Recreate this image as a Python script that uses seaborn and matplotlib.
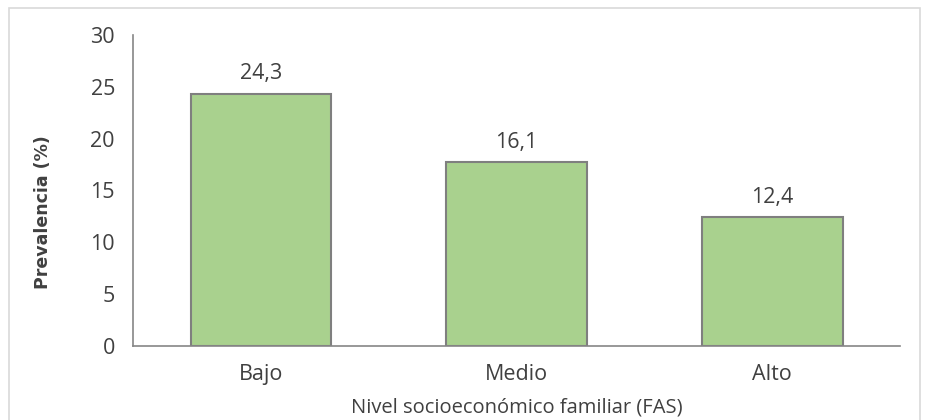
import matplotlib
matplotlib.use("Agg")
import matplotlib.pyplot as plt
import seaborn as sns
import pandas as pd
from matplotlib.patches import Rectangle

# Data
niveles = ["Bajo", "Medio", "Alto"]
alturas = [24.3, 17.7, 12.4]          # drawn bar heights
etiquetas = ["24,3", "16,1", "12,4"]  # printed data labels
yticks = [0, 5, 10, 15, 20, 25, 30]

df = pd.DataFrame({"Nivel": niveles, "Prevalencia": alturas})

sns.set_theme(style="white")
plt.rcParams["font.family"] = ["Open Sans", "DejaVu Sans"]

gris_txt = "#404040"
gris_eje = "#868686"
fs = 15.5

fig = plt.figure(figsize=(9.26, 4.2), dpi=100)
ax = fig.add_axes([0.1436, 0.176, 0.8284, 0.741])

sns.barplot(data=df, x="Nivel", y="Prevalencia", color="#A9D18E",
            saturation=1, width=0.55, edgecolor="#7F7F7F", linewidth=1.5, ax=ax)

for i, (h, lab) in enumerate(zip(alturas, etiquetas)):
    ax.annotate(lab, (i, h), xytext=(0, 7), textcoords="offset points",
                ha="center", va="bottom", fontsize=fs, color=gris_txt)

ax.set_ylim(0, 30)
ax.set_xlim(-0.5, 2.5)
ax.set_yticks(yticks)
ax.set_yticklabels([str(t) for t in yticks], fontsize=fs, color=gris_txt)
ax.tick_params(axis="x", length=0, pad=13, labelsize=fs, labelcolor=gris_txt)
ax.tick_params(axis="y", length=5, width=1, color=gris_eje, direction="out", pad=8)

ax.set_ylabel("Prevalencia (%)", fontsize=12.5, fontweight="bold",
              color=gris_txt, family=["DejaVu Sans"])
ax.yaxis.set_label_coords(-0.105, 0.431)
ax.set_xlabel("Nivel socioeconómico familiar (FAS)", fontsize=14.5,
              color=gris_txt, va="baseline")
ax.xaxis.set_label_coords(0.5, -0.215)

for s in ["top", "right"]:
    ax.spines[s].set_visible(False)
for s in ["left", "bottom"]:
    ax.spines[s].set_color(gris_eje)
    ax.spines[s].set_linewidth(1.2)

# light outer border of the chart area
fig.patches.append(Rectangle((9 / 926, -0.05), 911 / 926, 1.05 - 8 / 420,
                             transform=fig.transFigure, fill=False,
                             edgecolor="#D9D9D9", linewidth=1.2))

fig.savefig("out.png", dpi=100)
